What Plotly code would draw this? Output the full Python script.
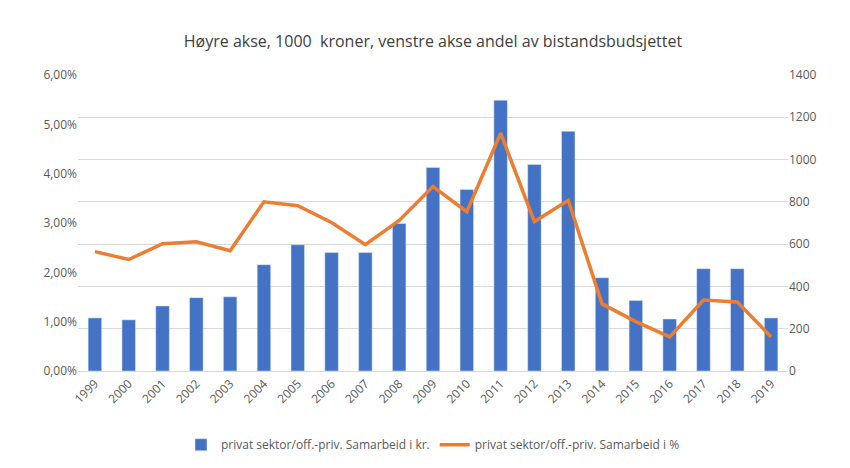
import plotly.graph_objects as go

years = [str(y) for y in range(1999, 2020)]
kr = [251, 242, 308, 347, 351, 503, 597, 560, 560, 698, 963, 859, 1281, 977, 1134, 441, 333, 246, 484, 484, 251]
pct = [2.42, 2.26, 2.58, 2.62, 2.44, 3.43, 3.35, 3.01, 2.56, 3.05, 3.74, 3.23, 4.82, 3.03, 3.46, 1.36, 1.0, 0.69, 1.44, 1.40, 0.69]

fig = go.Figure()
fig.add_trace(go.Bar(x=years, y=kr, name="privat sektor/off.-priv. Samarbeid i kr.",
                     marker_color="#4472C4", yaxis="y", width=0.4))
fig.add_trace(go.Scatter(x=years, y=[p/100 for p in pct], name="privat sektor/off.-priv. Samarbeid i %",
                         mode="lines", line=dict(color="#ED7D31", width=3.5), yaxis="y2"))
fig.update_layout(
    width=850, height=468, paper_bgcolor="white", plot_bgcolor="white",
    font=dict(family="Open Sans, Liberation Sans", size=12, color="#595959"),
    title=dict(text="Høyre akse, 1000  kroner, venstre akse andel av bistandsbudsjettet",
               x=0.5, y=0.94, font=dict(size=16, color="#404040")),
    margin=dict(l=70, r=70, t=67, b=105),
    xaxis=dict(tickangle=-45, showgrid=False, linecolor="#D9D9D9", type="category"),
    yaxis=dict(range=[0, 1400], dtick=200, side="right", showgrid=True, gridcolor="#D9D9D9", zeroline=False),
    yaxis2=dict(range=[0, 0.06], dtick=0.01, tickformat=".2%", side="left", overlaying="y",
                showgrid=False, zeroline=False),
    separators=",.",
    legend=dict(orientation="h", x=0.5, xanchor="center", y=-0.2, yanchor="top", font=dict(size=12)),
)
fig.write_html("out.html")
